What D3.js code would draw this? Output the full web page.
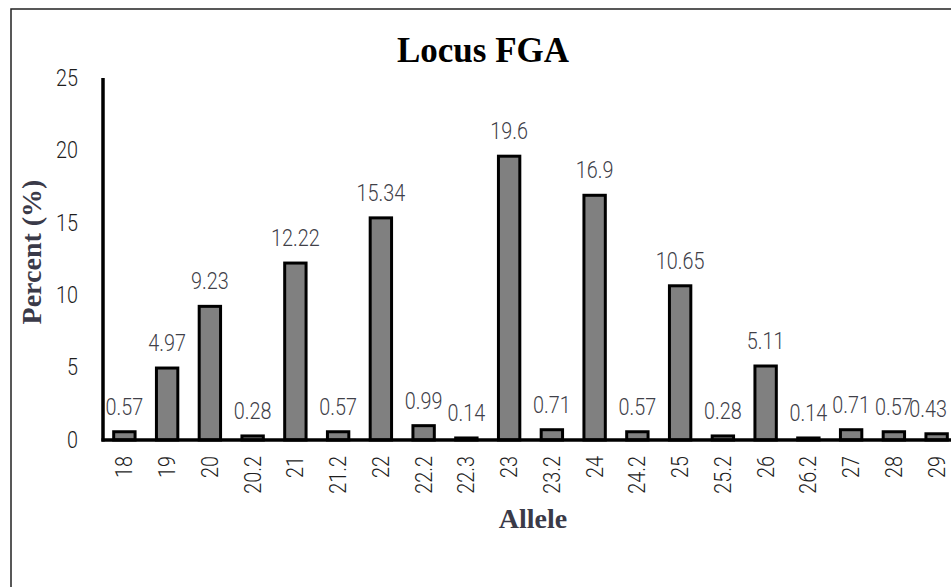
<!DOCTYPE html>
<html>
<head>
<meta charset="utf-8">
<script src="https://cdn.jsdelivr.net/npm/d3@7"></script>
<style>
  html, body { margin: 0; padding: 0; background: #fff; }
  svg { display: block; }
</style>
</head>
<body>
<svg id="chart" width="951" height="587"></svg>
<script>
const categories = ["18","19","20","20.2","21","21.2","22","22.2","22.3","23","23.2","24","24.2","25","25.2","26","26.2","27","28","29"];
const values = [0.57,4.97,9.23,0.28,12.22,0.57,15.34,0.99,0.14,19.6,0.71,16.9,0.57,10.65,0.28,5.11,0.14,0.71,0.57,0.43];
const yTicks = [0,5,10,15,20,25];
const title = "Locus FGA";
const xTitle = "Allele";
const yTitle = "Percent (%)";

const svg = d3.select("#chart");
const NUM_FONT = "Roboto, sans-serif";
const NUM_SIZE = 23;
const SQUEEZE = 0.86;

function condense(sel) {
  sel.each(function () {
    const w = this.getComputedTextLength();
    d3.select(this).attr("textLength", w * SQUEEZE).attr("lengthAdjust", "spacingAndGlyphs");
  });
}

// outer frame
svg.append("rect")
  .attr("x", 11).attr("y", 9).attr("width", 1000).attr("height", 700)
  .attr("fill", "none").attr("stroke", "#222").attr("stroke-width", 1.5);

const x = d3.scaleBand().domain(categories).range([103, 958]).paddingInner(0.5).paddingOuter(0.25);
const y = d3.scaleLinear().domain([0, 25]).range([440, 78]);

// title
svg.append("text")
  .attr("x", 483).attr("y", 62)
  .attr("text-anchor", "middle")
  .attr("font-family", "Liberation Serif, Times New Roman, serif")
  .attr("font-weight", "bold").attr("font-size", 35)
  .attr("fill", "#000")
  .text(title);

// bars
svg.selectAll("rect.bar").data(values).enter().append("rect")
  .attr("class", "bar")
  .attr("x", (d, i) => x(categories[i]))
  .attr("width", x.bandwidth())
  .attr("y", d => y(d))
  .attr("height", d => y(0) - y(d))
  .attr("fill", "#808080").attr("stroke", "#000").attr("stroke-width", 3);

// data labels
const dl = svg.selectAll("text.dl").data(values).enter().append("text")
  .attr("class", "dl")
  .attr("x", (d, i) => x(categories[i]) + x.bandwidth() / 2)
  .attr("y", d => y(d) - 17)
  .attr("text-anchor", "middle")
  .attr("font-family", NUM_FONT)
  .attr("font-weight", 300)
  .attr("font-size", NUM_SIZE)
  .attr("fill", "#404048")
  .text(d => d);
condense(dl);
// keep labels inside the right edge
dl.each(function () {
  const t = d3.select(this);
  const w = +t.attr("textLength");
  const cx = +t.attr("x");
  if (cx + w / 2 > 947) t.attr("x", 947 - w / 2);
});

// y axis
const yAxis = d3.axisLeft(y).tickValues(yTicks).tickSize(0).tickPadding(25);
const gy = svg.append("g").attr("transform", "translate(103,0)").call(yAxis);
gy.select(".domain").remove();
gy.selectAll("text").attr("font-family", NUM_FONT).attr("font-weight", 300).attr("font-size", NUM_SIZE).attr("fill", "#1e1e1e");
condense(gy.selectAll("text"));

// x axis
const xAxis = d3.axisBottom(x).tickSize(0);
const gx = svg.append("g").attr("transform", "translate(0,440)").call(xAxis);
gx.select(".domain").remove();
gx.selectAll("text")
  .attr("font-family", NUM_FONT).attr("font-weight", 300).attr("font-size", NUM_SIZE).attr("fill", "#1e1e1e")
  .attr("transform", "translate(0,16) rotate(-90)")
  .attr("text-anchor", "end")
  .attr("dy", "0.35em")
  .attr("x", 0).attr("y", 0);
condense(gx.selectAll("text"));

// axis lines
svg.append("line").attr("x1", 103).attr("x2", 103).attr("y1", 78).attr("y2", 441.5)
  .attr("stroke", "#000").attr("stroke-width", 3.5);
svg.append("line").attr("x1", 101.5).attr("x2", 951).attr("y1", 440).attr("y2", 440)
  .attr("stroke", "#000").attr("stroke-width", 3.5);

// axis titles
svg.append("text")
  .attr("transform", "translate(41,252) rotate(-90)")
  .attr("text-anchor", "middle")
  .attr("font-family", "Liberation Serif, Times New Roman, serif")
  .attr("font-weight", "bold").attr("font-size", 28)
  .attr("fill", "#3a3a48")
  .text(yTitle);

svg.append("text")
  .attr("x", 533).attr("y", 528)
  .attr("text-anchor", "middle")
  .attr("font-family", "Liberation Serif, Times New Roman, serif")
  .attr("font-weight", "bold").attr("font-size", 28)
  .attr("fill", "#3a3a48")
  .text(xTitle);
</script>
</body>
</html>
